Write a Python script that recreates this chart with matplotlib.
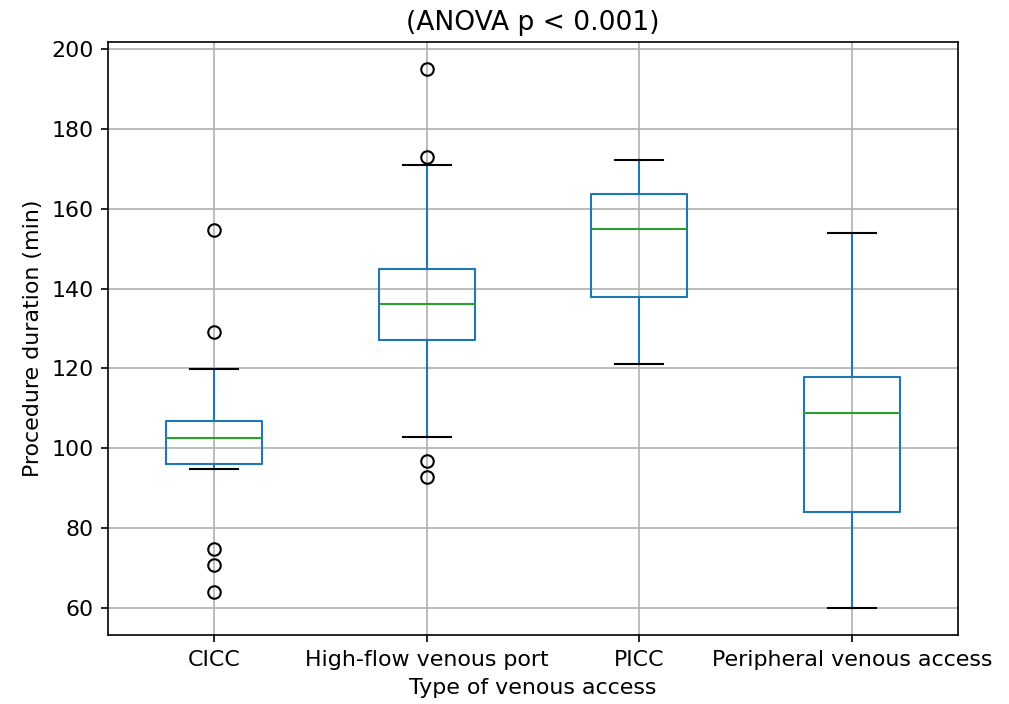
import matplotlib.pyplot as plt

# values
groups = ['CICC', 'High-flow venous port', 'PICC', 'Peripheral venous access']
q1 = [96.1, 127.1, 137.9, 84.0]
med = [102.6, 136.1, 154.9, 108.8]
q3 = [106.8, 144.9, 163.7, 117.9]
whislo = [94.8, 102.8, 121.1, 60.0]
whishi = [119.8, 170.9, 172.2, 153.9]
fliers = [
    [154.7, 129.1, 74.8, 70.8, 64.0],
    [195.0, 173.0, 96.8, 92.8],
    [],
    [],
]

stats = []
for i in range(len(groups)):
    stats.append({'label': groups[i], 'q1': q1[i], 'med': med[i], 'q3': q3[i],
                  'whislo': whislo[i], 'whishi': whishi[i], 'fliers': fliers[i]})

plt.rcParams['font.size'] = 10.6

fig = plt.figure(figsize=(1009 / 150, 704 / 150), dpi=150)
ax = fig.add_axes([0.107, 0.098, 0.8424, 0.8423])
ax.bxp(stats,
       boxprops=dict(color='C0'),
       whiskerprops=dict(color='C0'),
       capprops=dict(color='k'),
       medianprops=dict(color='C2'),
       flierprops=dict(marker='o', markeredgecolor='k', markerfacecolor='none'))
ax.grid(True)
ax.set_title('(ANOVA p < 0.001)')
ax.set_xlabel('Type of venous access')
ax.set_ylabel('Procedure duration (min)')
fig.savefig('out.png', dpi=150)
